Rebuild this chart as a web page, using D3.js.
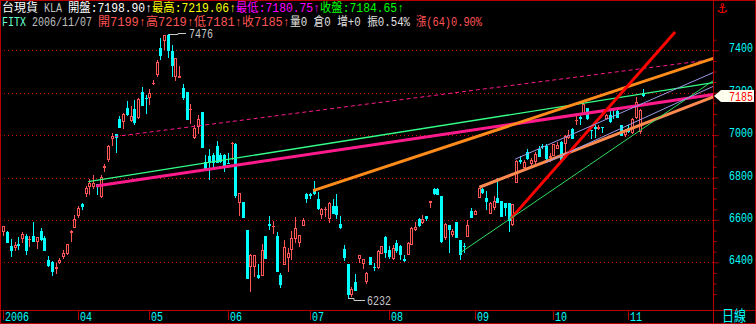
<!DOCTYPE html>
<html><head><meta charset="utf-8">
<script src="https://cdn.jsdelivr.net/npm/d3@7"></script>
<style>body{margin:0;background:#000}svg{display:block}</style>
</head><body><svg id="c" width="756" height="324"></svg>
<script>
const opens  = [6541,6544,6478,6467,6485,6509,6525,6506,6522,6497,6546,6516,6411,6400,6370,6398,6425,6440,6538,6560,
6620,6673,6720,6757,6757,6768,6708,6846,6884,6982,7004,7074,7062,7130,7066,7125,7081,7201,7176,7176,
7240,7284,7411,7443,7470,7395,7276,7271,7224,7201,7117,6985,7038,7109,6871,6901,6906,6949,6906,6906,
6868,6957,6960,6681,6684,6554,6379,6376,6340,6336,6525,6582,6570,6525,6340,6387,6419,6456,6509,6490,
6570,6724,6720,6744,6700,6625,6646,6605,6665,6665,6582,6463,6392,6244,6305,6417,6392,6308,6424,6379,
6371,6440,6519,6459,6414,6490,6475,6417,6435,6482,6554,6605,6586,6620,6681,6744,6747,6713,6514,6575,
6530,6589,6506,6475,6519,6641,6625,6705,6744,6705,6628,6657,6705,6689,6681,6681,6578,6776,6884,6843,
6922,6863,6874,6935,6950,6950,6890,6903,6935,6966,6958,6985,7030,7065,7085,7097,7128,7022,7040,7030,
7038,7074,7097,7122,7112,7049,7000,7033,7011,7081,7014,7199];
const highs  = [6573,6549,6509,6497,6519,6544,6535,6525,6589,6519,6562,6525,6430,6406,6395,6421,6459,6487,6554,6624,
6665,6681,6760,6792,6811,6768,6811,6865,6951,7009,7004,7090,7106,7160,7138,7165,7176,7228,7189,7216,
7260,7355,7458,7474,7476,7424,7363,7328,7240,7205,7149,7046,7096,7109,6906,6933,6917,6973,6917,6911,
6917,6968,6965,6728,6684,6554,6440,6433,6390,6486,6525,6620,6593,6544,6351,6506,6467,6546,6612,6530,
6609,6728,6728,6784,6731,6657,6662,6684,6697,6720,6617,6482,6392,6284,6347,6433,6414,6352,6424,6398,
6459,6478,6522,6475,6482,6506,6482,6435,6494,6567,6589,6609,6625,6620,6689,6752,6752,6713,6586,6575,
6557,6589,6506,6490,6598,6657,6647,6752,6752,6736,6684,6713,6796,6689,6681,6681,6673,6882,6903,6882,
6935,6890,6922,6950,6958,6958,6915,6958,6966,6970,7001,7022,7033,7097,7090,7154,7128,7022,7046,7046,
7038,7100,7117,7128,7117,7049,7030,7046,7081,7181,7125,7219];
const lows   = [6525,6490,6427,6455,6459,6490,6435,6471,6497,6465,6500,6451,6379,6336,6343,6390,6417,6435,6498,6560,
6609,6646,6709,6717,6748,6717,6703,6827,6874,6948,6916,7035,7027,7090,7062,7049,7074,7136,7101,7141,
7236,7276,7355,7403,7366,7273,7257,7271,7165,7070,7054,6982,7006,6938,6840,6790,6846,6870,6870,6827,
6862,6881,6703,6617,6608,6322,6260,6332,6319,6336,6416,6554,6535,6355,6281,6387,6356,6411,6490,6474,
6570,6681,6700,6717,6649,6602,6614,6586,6628,6605,6557,6408,6232,6236,6265,6395,6367,6300,6387,6360,
6367,6440,6422,6414,6411,6443,6411,6400,6435,6482,6547,6567,6581,6593,6657,6716,6717,6490,6506,6446,
6519,6514,6411,6446,6519,6609,6622,6705,6720,6649,6628,6649,6681,6614,6617,6541,6573,6773,6863,6836,
6884,6847,6852,6898,6935,6884,6875,6903,6935,6874,6911,6982,6982,7046,7046,7097,7070,6982,6985,7022,
7011,7074,7058,7078,7081,6995,6990,7011,7006,7078,7006,7181];
const closes = [6570,6490,6451,6483,6478,6535,6451,6512,6497,6519,6506,6451,6384,6355,6376,6413,6446,6487,6546,6605,
6654,6660,6752,6776,6776,6757,6803,6852,6948,6998,6987,7035,7100,7093,7090,7058,7170,7136,7170,7197,
7244,7347,7374,7474,7395,7328,7363,7279,7173,7070,7122,7033,7074,6938,6840,6870,6870,6870,6874,6849,
6865,6962,6714,6725,6608,6322,6435,6433,6324,6459,6416,6570,6573,6355,6292,6474,6446,6514,6562,6527,
6601,6700,6712,6724,6652,6652,6652,6681,6628,6625,6562,6419,6244,6276,6265,6433,6414,6348,6387,6371,
6451,6475,6446,6427,6466,6455,6435,6408,6490,6562,6566,6570,6605,6605,6689,6720,6717,6495,6581,6551,
6546,6514,6435,6471,6578,6609,6644,6752,6728,6684,6678,6689,6681,6614,6657,6594,6673,6879,6871,6874,
6887,6884,6911,6898,6944,6887,6900,6958,6954,6879,6998,7001,6982,7070,7078,7149,7074,7020,7030,7038,
7033,7097,7062,7117,7081,6995,7020,7014,7078,7157,7117,7185];

const monthLabels = ["2006","04","05","06","07","08","09","10","11"];
const monthIdx    = [0,20,39,60,82,103,126,147,167];
const yTickValues = [6400,6600,6800,7000,7200,7400];

// trend lines: start index/price, end index/price
const lineI1 = [22.7, 24.8, 29.8, 82.8, 127.2, 135.6, 122.0, 136.7, 145.0];
const lineP1 = [6781, 6760, 6993, 6738, 6754, 6606, 6444, 6886, 6870];
const lineI2 = [189.7,189.7,189.7,189.7,189.7,179.5,189.7,189.7,189.7];
const lineP2 = [7248, 7192, 7357, 7362, 7180, 7486, 7257, 7295, 7230];

const hiLabel = {i:44, v:7476};
const loLabel = {i:92, v:6232};

const header1 = [["台現貨","#ffffff"],[" KLA ","#c0c0c0"],["開盤:7198.90↑","#ffffff"],["最高:7219.06↑","#ffff00"],["最低:7180.75↑","#ff00ff"],["收盤:7184.65↑","#00ff00"]];
const header2 = [["FITX ","#66ffcc"],["2006/11/07 ","#c0c0c0"],["開7199↑高7219↑低7181↑收7185↑","#ff5555"],["量0 倉0 增+0 振0.54% ","#e0e0e0"],["漲(64)0.90%","#ff5555"]];
const lastClose = 7185;

const svg = d3.select("#c");
const W=756,H=324, axisX=713.5, axisY=310.5;
svg.append("rect").attr("width",W).attr("height",H).attr("fill","#000");

const x = d3.scaleLinear().domain([0,171]).range([3.3,643.3]);
const y = d3.scaleLinear().domain([6400,7400]).range([262.3,50.3]);

const frame="#b40000";
const MONO="'Liberation Mono','DejaVu Sans Mono','Noto Sans CJK TC'";

// tall narrow text helper (bitmap-like: 6px per half-width char)
function tallText(g, tx, ty, str, color, sy){
  return g.append("text").attr("transform",`translate(${tx},${ty}) scale(1,${sy||1.3})`)
    .attr("fill",color).attr("font-family",MONO).attr("font-size",10).text(str);
}

// gridlines
svg.append("g").selectAll("line").data(yTickValues).join("line")
  .attr("x1",4).attr("x2",axisX).attr("y1",d=>Math.round(y(d))+0.5).attr("y2",d=>Math.round(y(d))+0.5)
  .attr("stroke","#d00000").attr("stroke-dasharray","1,3");

// y axis
const yAxis = d3.axisRight(y).tickValues(d3.range(6250,7500,50)).tickSize(3).tickFormat("");
const ga = svg.append("g").attr("transform",`translate(${axisX},0)`).call(yAxis);
ga.select(".domain").remove();
ga.selectAll("line").attr("stroke",frame);
ga.selectAll(".tick").filter(d=>d%200===0).select("line").attr("x2",5);
const yl = svg.append("g");
yTickValues.forEach(v=>tallText(yl, 729, y(v)+2, v, "#00ffff"));

// candles
const idx = d3.range(opens.length);
const cg = svg.append("g");
idx.forEach(i=>{
  const o=opens[i],c=closes[i],h=highs[i],l=lows[i];
  const up = c>=o;
  const col = up?"#ff5555":"#00ffff";
  const cx = Math.round(x(i));
  const yt = Math.round(y(Math.max(o,c))), yb = Math.round(y(Math.min(o,c)));
  const yh = Math.round(y(h)), ylo = Math.round(y(l));
  if(up && yt<yb-1){
    cg.append("rect").attr("x",cx-1+0.5).attr("y",yt+0.5).attr("width",2).attr("height",yb-yt-1).attr("fill","none").attr("stroke",col);
    if(yh<yt) cg.append("rect").attr("x",cx).attr("y",yh).attr("width",1).attr("height",yt-yh).attr("fill",col);
    if(ylo>yb) cg.append("rect").attr("x",cx).attr("y",yb).attr("width",1).attr("height",ylo-yb).attr("fill",col);
  } else {
    cg.append("rect").attr("x",cx).attr("y",yh).attr("width",1).attr("height",Math.max(1,ylo-yh)).attr("fill",col);
    cg.append("rect").attr("x",cx-1).attr("y",yt).attr("width",3).attr("height",Math.max(1,yb-yt)).attr("fill",col);
  }
});

// trend lines
const lineStyle = [
  {c:"#33ff88",w:1.3},{c:"#ff1a8c",w:3},{c:"#ff1a8c",w:1,d:"4,3"},{c:"#ff8c1a",w:3},
  {c:"#ff8a50",w:3},{c:"#ff0000",w:3},{c:"#30dd60",w:1},{c:"#9a9ae6",w:1},{c:"#9a9ae6",w:1}];
const lg = svg.append("g");
lineI1.forEach((_,k)=>{
  const s=lineStyle[k];
  lg.append("line").attr("x1",x(lineI1[k])).attr("y1",y(lineP1[k])).attr("x2",x(lineI2[k])).attr("y2",y(lineP2[k]))
    .attr("stroke",s.c).attr("stroke-width",s.w).attr("stroke-dasharray",s.d||null);
});

// high / low annotations
const ann = svg.append("g");
{
  const hx=Math.round(x(hiLabel.i)), hy=Math.round(y(hiLabel.v));
  ann.append("path").attr("d",`M${hx+1},${hy+0.5}H${hx+10}V${hy-0.5}H${hx+18}`).attr("stroke","#c8c8c8").attr("fill","none");
  tallText(ann, hx+21, hy+3.5, hiLabel.v, "#c8c8c8");
  const lx=Math.round(x(loLabel.i)), ly=Math.round(y(loLabel.v));
  ann.append("path").attr("d",`M${lx},${ly+0.5}H${lx+6}V${ly+2.5}H${lx+17}`).attr("stroke","#c8c8c8").attr("fill","none");
  tallText(ann, lx+19, ly+7, loLabel.v, "#c8c8c8");
}

// frame
svg.append("rect").attr("x",0.5).attr("y",0.5).attr("width",W-1).attr("height",H-1).attr("fill","none").attr("stroke",frame);
svg.append("line").attr("x1",axisX).attr("x2",axisX).attr("y1",0).attr("y2",H).attr("stroke",frame);
svg.append("line").attr("x1",0).attr("x2",W).attr("y1",axisY).attr("y2",axisY).attr("stroke",frame);

// month ticks + labels
const mg = svg.append("g");
monthIdx.forEach((m,k)=>{
  const mx = Math.round(x(m))+0.5;
  mg.append("line").attr("x1",mx).attr("x2",mx).attr("y1",axisY).attr("y2",320).attr("stroke",frame);
  tallText(mg, mx+1.5, 321, monthLabels[k], "#00ffff");
});
tallText(svg, 722, 321, "日線", "#00ffff", 1.2).attr("font-size",12);

// last price marker
const ly0 = Math.round(y(lastClose));
svg.append("path").attr("d",`M714,${ly0} L721,${ly0-6} H754 V${ly0+6} H721 Z`).attr("fill","#fffff0");
tallText(svg, 729, ly0+4.5, lastClose, "#ff0000", 1.2);

// anchor symbol
svg.append("text").attr("x",722).attr("y",13).attr("text-anchor","middle").attr("fill","#ff0000").attr("font-family","DejaVu Sans").attr("font-size",13).attr("font-weight","bold").text("⚓");

// header
function cw(s){let w=0;for(const ch of s){w+= ch.charCodeAt(0)>0x2000?12:6;}return w;}
function drawHeader(arr, yb){
  let cx=2;
  arr.forEach(([t,c])=>{
    const tt=t.trim(); const lead = t.length - t.trimStart().length;
    const x0 = cx + lead*6;
    svg.append("text").attr("transform",`translate(${x0},${yb}) scale(1,1.2)`).attr("fill",c)
      .attr("font-family",MONO).attr("font-size",10)
      .attr("textLength",cw(tt)).attr("lengthAdjust","spacingAndGlyphs").text(tt);
    cx += cw(t);
  });
}
drawHeader(header1,11.5);
drawHeader(header2,25.5);
</script></body></html>
